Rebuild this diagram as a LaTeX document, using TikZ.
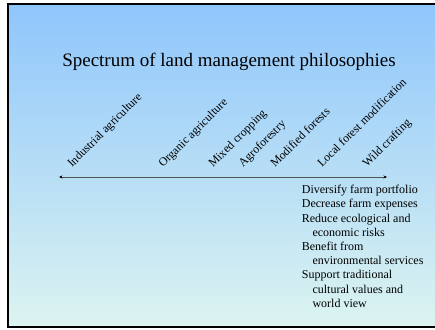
\documentclass[tikz,border=0pt]{standalone}
\usepackage{fontspec}
\setmainfont{Liberation Serif}
\usetikzlibrary{arrows.meta}
\tikzstyle{slide} = [x = 1pt, y = -1pt]
\definecolor{skyTop}{RGB}{143,198,252}
\definecolor{skyBottom}{RGB}{220,244,240}
\definecolor{axisColor}{RGB}{85,85,85}
\tikzstyle{frameStyle} = [draw=black, line width=2.6pt, top color=skyTop, bottom color=skyBottom]
\tikzstyle{titleText} = [font=\fontsize{19}{23}\selectfont, inner sep=0, anchor=base]
\tikzstyle{spectrumText} = [font=\fontsize{11.8}{14}\selectfont, inner sep=0, anchor=base west, rotate=45]
\tikzstyle{axisLine} = [color=axisColor, line width=0.9pt, {Stealth[length=3.5pt, width=3pt, black]}-{Stealth[length=3.5pt, width=3pt, black]}]
\tikzstyle{reasonText} = [font=\fontsize{12}{14.2}\selectfont, inner sep=0, anchor=north west, align=left]
\newcommand{\spectrumLabel}[3]{\node [spectrumText] (#1) at (#2, 168) {#3};}
\newcommand{\indentLine}{\hspace*{10.6pt}}

\begin{document}
\begin{tikzpicture}[slide]
  \useasboundingbox (0, 0) rectangle (435, 329);
  \clip (0, 0) rectangle (435, 329);
  \path [frameStyle] (8, 4) rectangle (450, 327);
  \node [titleText] (title) at (229, 66.7) {Spectrum of land management philosophies};
  % spectrum, from farm to forest
  \spectrumLabel{industrial}{72}{Industrial agriculture}
  \spectrumLabel{organic}{163}{Organic agriculture}
  \spectrumLabel{mixed}{213}{Mixed cropping}
  \spectrumLabel{agroforestry}{243}{Agroforestry}
  \spectrumLabel{modified}{275}{Modified forests}
  \spectrumLabel{localForest}{322}{Local forest modification}
  \spectrumLabel{wild}{367}{Wild crafting}
  \coordinate (axisStart) at (59, 177);
  \coordinate (axisEnd) at (387, 177);
  \draw [axisLine] (axisStart) -- (axisEnd);
  \node [reasonText] (reasons) at (301.7, 185) {Diversify farm portfolio\\
    Decrease farm expenses\\
    Reduce ecological and\\
    \indentLine economic risks\\
    Benefit from\\
    \indentLine environmental services\\
    Support traditional\\
    \indentLine cultural values and\\
    \indentLine world view};
\end{tikzpicture}
\end{document}
